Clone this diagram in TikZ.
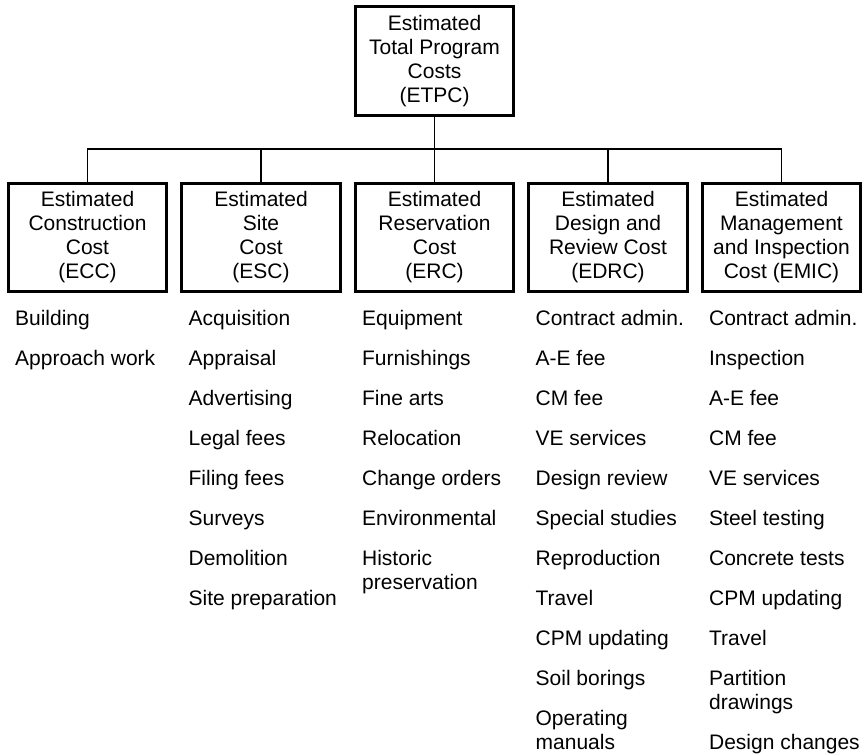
\documentclass[tikz,border=0pt]{standalone}
\usepackage{fontspec}
\setmainfont{Liberation Sans}
\usepackage{tikz}
\usetikzlibrary{calc}
\definecolor{InkBlack}{HTML}{000000}
\newcommand{\costfont}{\fontsize{21}{24}\selectfont}
\newcommand{\nextitem}{\\[16pt]}
\tikzset{
  costbox/.style={draw=InkBlack, line width=2.6pt, minimum width=158.5pt,
    minimum height=108.5pt, align=center, font=\costfont, inner sep=0pt},
  itemlist/.style={anchor=north west, align=left, font=\costfont,
    inner sep=0pt, text=InkBlack},
  link/.style={draw=InkBlack, line width=1.6pt}
}

\begin{document}
\begin{tikzpicture}[x=1pt,y=-1pt]
  \useasboundingbox (0,0) rectangle (864,754);
  \node[costbox, minimum height=109.5pt] (etpc) at (434.5,61)
    {Estimated\\Total Program\\Costs\\(ETPC)};
  \foreach \x/\name/\title/\items in {
    87.5/ecc/{Estimated\\Construction\\Cost\\(ECC)}/{Building\nextitem Approach work},
    261/esc/{Estimated\\Site\\Cost\\(ESC)}/{Acquisition\nextitem Appraisal\nextitem Advertising\nextitem Legal fees\nextitem Filing fees\nextitem Surveys\nextitem Demolition\nextitem Site preparation},
    434.5/erc/{Estimated\\Reservation\\Cost\\(ERC)}/{Equipment\nextitem Furnishings\nextitem Fine arts\nextitem Relocation\nextitem Change orders\nextitem Environmental\nextitem Historic\\preservation},
    608/edrc/{Estimated\\Design and\\Review Cost\\(EDRC)}/{Contract admin.\nextitem A-E fee\nextitem CM fee\nextitem VE services\nextitem Design review\nextitem Special studies\nextitem Reproduction\nextitem Travel\nextitem CPM updating\nextitem Soil borings\nextitem Operating\\manuals},
    781.5/emic/{Estimated\\Management\\and Inspection\\Cost (EMIC)}/{Contract admin.\nextitem Inspection\nextitem A-E fee\nextitem CM fee\nextitem VE services\nextitem Steel testing\nextitem Concrete tests\nextitem CPM updating\nextitem Travel\nextitem Partition\\drawings\nextitem Design changes}}{
    \node[costbox] (\name) at (\x,237.5) {\title};
    \node[itemlist] (\name-items) at ($(\name.south west)+(8,17)$) {\items};
  }
  % bus between the top box and the five cost boxes
  \coordinate (bus) at (434.5,149);
  \draw[link] (etpc.south) -- (erc.north);
  \draw[link] (ecc.north) |- (bus) -| (emic.north);
  \draw[link] (esc.north) |- (bus);
  \draw[link] (edrc.north) |- (bus);
\end{tikzpicture}
\end{document}
